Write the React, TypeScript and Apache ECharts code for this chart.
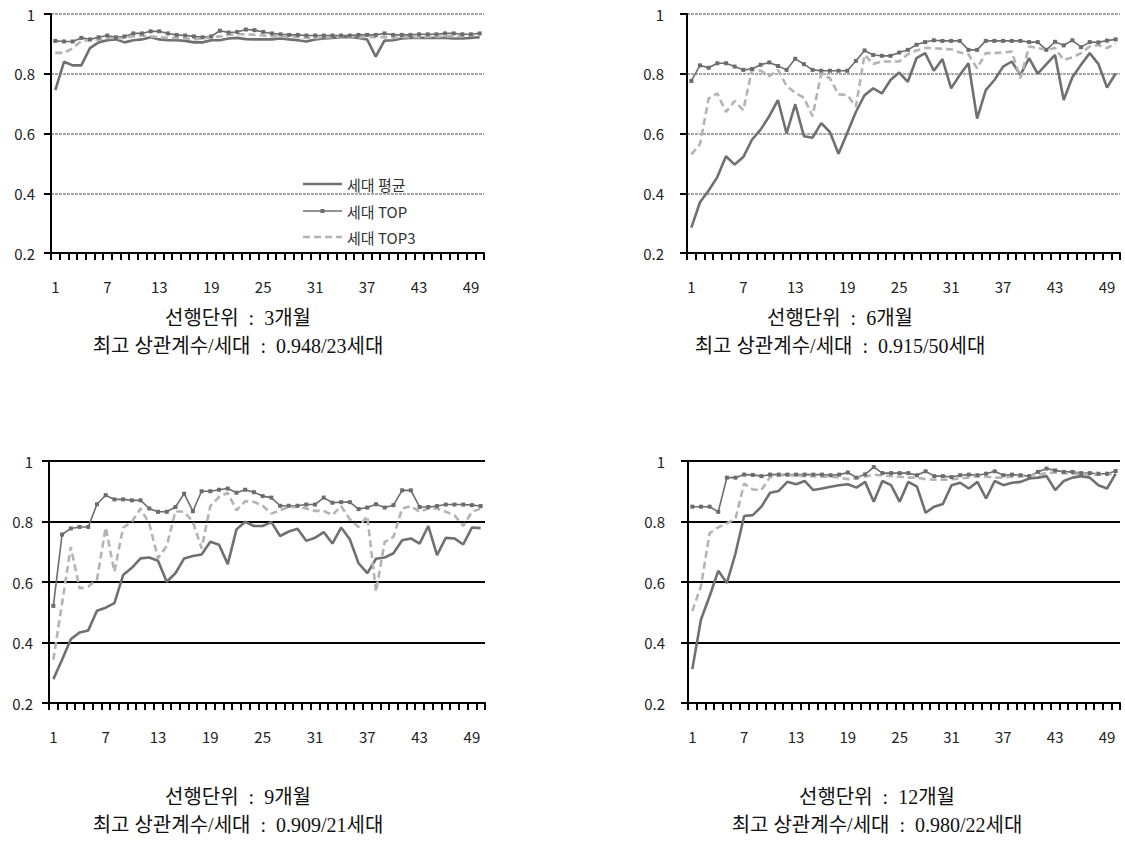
import React, { useEffect, useRef } from "react";
import * as echarts from "echarts";

const categories: string[] = Array.from({ length: 50 }, (_, i) => String(i + 1));
const seriesNames = ["세대 평균", "세대 TOP", "세대 TOP3"];

// Panel 1: 3개월
const p1Avg = [0.745,0.84,0.828,0.828,0.886,0.905,0.912,0.915,0.905,0.912,0.915,0.922,0.915,0.912,0.912,0.91,0.905,0.905,0.912,0.912,0.918,0.92,0.916,0.915,0.915,0.915,0.918,0.915,0.912,0.908,0.915,0.918,0.92,0.922,0.922,0.92,0.915,0.857,0.911,0.912,0.918,0.92,0.92,0.92,0.92,0.92,0.918,0.918,0.92,0.922];
const p1Top = [0.91,0.908,0.908,0.92,0.915,0.922,0.928,0.922,0.925,0.935,0.935,0.942,0.942,0.935,0.93,0.928,0.925,0.922,0.925,0.944,0.938,0.94,0.948,0.946,0.94,0.935,0.932,0.93,0.93,0.928,0.928,0.928,0.928,0.928,0.928,0.93,0.93,0.93,0.935,0.93,0.93,0.93,0.932,0.932,0.932,0.935,0.935,0.932,0.932,0.935];
const p1Top3 = [0.87,0.87,0.885,0.91,0.912,0.915,0.92,0.918,0.92,0.925,0.928,0.925,0.922,0.92,0.92,0.918,0.915,0.918,0.922,0.925,0.93,0.932,0.932,0.93,0.928,0.925,0.925,0.922,0.922,0.92,0.92,0.922,0.922,0.922,0.922,0.922,0.922,0.922,0.922,0.92,0.922,0.922,0.922,0.924,0.924,0.925,0.926,0.926,0.928,0.93];

// Panel 2: 6개월
const p2Avg = [0.285,0.37,0.409,0.454,0.524,0.496,0.521,0.579,0.613,0.658,0.712,0.6,0.698,0.591,0.586,0.635,0.605,0.532,0.602,0.672,0.728,0.751,0.734,0.779,0.804,0.773,0.852,0.869,0.81,0.849,0.751,0.796,0.835,0.65,0.745,0.779,0.824,0.841,0.796,0.852,0.8,0.832,0.863,0.712,0.788,0.83,0.869,0.833,0.754,0.801];
const p2Top = [0.776,0.828,0.82,0.835,0.835,0.824,0.813,0.816,0.83,0.838,0.826,0.813,0.85,0.832,0.813,0.81,0.81,0.81,0.81,0.843,0.878,0.863,0.86,0.86,0.871,0.88,0.897,0.906,0.912,0.91,0.91,0.91,0.88,0.88,0.91,0.91,0.91,0.91,0.91,0.906,0.906,0.88,0.907,0.895,0.912,0.889,0.906,0.905,0.911,0.915];
const p2Top3 = [0.53,0.564,0.717,0.734,0.672,0.709,0.678,0.813,0.81,0.792,0.813,0.759,0.736,0.72,0.658,0.8,0.785,0.731,0.729,0.69,0.863,0.833,0.841,0.841,0.841,0.865,0.878,0.886,0.886,0.883,0.882,0.871,0.865,0.818,0.869,0.869,0.871,0.874,0.785,0.891,0.886,0.88,0.886,0.846,0.855,0.869,0.891,0.896,0.886,0.902];

// Panel 3: 9개월
const p3Avg = [0.279,0.343,0.411,0.433,0.44,0.505,0.515,0.53,0.623,0.647,0.678,0.681,0.67,0.601,0.629,0.678,0.686,0.691,0.733,0.723,0.659,0.774,0.799,0.785,0.785,0.798,0.752,0.767,0.776,0.736,0.746,0.765,0.727,0.78,0.741,0.662,0.629,0.677,0.681,0.695,0.738,0.744,0.727,0.785,0.689,0.746,0.744,0.724,0.78,0.778];
const p3Top = [0.521,0.757,0.777,0.782,0.782,0.857,0.887,0.873,0.873,0.87,0.87,0.843,0.832,0.832,0.848,0.892,0.834,0.9,0.9,0.905,0.909,0.895,0.905,0.897,0.884,0.879,0.852,0.852,0.852,0.856,0.856,0.879,0.862,0.864,0.864,0.841,0.846,0.857,0.846,0.854,0.903,0.903,0.848,0.848,0.851,0.856,0.856,0.856,0.854,0.851];
const p3Top3 = [0.343,0.53,0.716,0.579,0.585,0.607,0.78,0.634,0.78,0.799,0.843,0.793,0.678,0.719,0.834,0.832,0.799,0.711,0.851,0.881,0.895,0.837,0.867,0.865,0.852,0.826,0.837,0.848,0.848,0.843,0.835,0.835,0.821,0.851,0.807,0.782,0.818,0.568,0.733,0.749,0.843,0.851,0.832,0.843,0.843,0.832,0.821,0.785,0.832,0.843];

// Panel 4: 12개월
const p4Avg = [0.312,0.476,0.553,0.637,0.597,0.695,0.818,0.821,0.849,0.895,0.901,0.931,0.923,0.934,0.904,0.909,0.915,0.92,0.923,0.912,0.931,0.865,0.934,0.92,0.865,0.931,0.915,0.829,0.849,0.858,0.92,0.928,0.909,0.931,0.876,0.934,0.92,0.928,0.931,0.942,0.945,0.95,0.904,0.934,0.945,0.95,0.945,0.92,0.909,0.958];
const p4Top = [0.849,0.849,0.849,0.832,0.945,0.945,0.955,0.954,0.95,0.955,0.955,0.955,0.955,0.955,0.955,0.955,0.953,0.955,0.962,0.945,0.956,0.98,0.96,0.96,0.96,0.96,0.953,0.966,0.95,0.95,0.947,0.953,0.955,0.953,0.958,0.966,0.953,0.955,0.953,0.95,0.964,0.975,0.969,0.964,0.964,0.96,0.96,0.958,0.958,0.967];
const p4Top3 = [0.504,0.586,0.761,0.781,0.794,0.81,0.925,0.906,0.904,0.947,0.953,0.953,0.952,0.95,0.95,0.948,0.948,0.945,0.94,0.945,0.948,0.955,0.952,0.95,0.948,0.945,0.945,0.94,0.938,0.938,0.94,0.942,0.945,0.95,0.948,0.945,0.945,0.948,0.95,0.952,0.955,0.96,0.962,0.96,0.958,0.958,0.955,0.955,0.955,0.96];

const yTicks = { min: 0.2, max: 1, interval: 0.2 };

const captions = [
  ["선행단위  :  3개월", "최고 상관계수/세대  :  0.948/23세대"],
  ["선행단위  :  6개월", "최고 상관계수/세대  :  0.915/50세대"],
  ["선행단위  :  9개월", "최고 상관계수/세대  :  0.909/21세대"],
  ["선행단위  :  12개월", "최고 상관계수/세대  :  0.980/22세대"],
];

const panelData = [
  [p1Avg, p1Top, p1Top3],
  [p2Avg, p2Top, p2Top3],
  [p3Avg, p3Top, p3Top3],
  [p4Avg, p4Top, p4Top3],
];

const SANS = "'Noto Sans CJK KR', 'Noto Sans', sans-serif";
const SERIF = "'Liberation Serif', 'DejaVu Serif', 'Noto Sans CJK KR', serif";

const AVG_STYLE = { color: "#707070", width: 2.6 };
const TOP_STYLE = { color: "#6c6c6c", width: 1.6 };
const TOP3_STYLE = { color: "#b4b4b4", width: 2.6, dash: [7, 4] };

export default function App() {
  const ref = useRef<HTMLDivElement>(null);
  useEffect(() => {
    if (!ref.current) return;
    const chart = echarts.init(ref.current, undefined, { renderer: "svg" });

    const grids = [
      { left: 51, top: 14, width: 433, height: 239 },
      { left: 687, top: 14, width: 433, height: 239 },
      { left: 49, top: 461, width: 436, height: 242 },
      { left: 688, top: 461, width: 432, height: 242 },
    ];

    const xAxes = grids.map((_, i) => ({
      type: "category",
      gridIndex: i,
      data: categories,
      boundaryGap: true,
      axisLine: { show: true, onZero: false, lineStyle: { color: "#000", width: 2 } },
      axisTick: { show: true, interval: 0, length: 7, lineStyle: { color: "#000", width: 2 } },
      axisLabel: { interval: 5, margin: 26, fontSize: 15, color: "#222", fontFamily: SANS },
      splitLine: { show: false },
    }));

    const yAxes = grids.map((_, i) => ({
      type: "value",
      gridIndex: i,
      min: yTicks.min,
      max: yTicks.max,
      interval: yTicks.interval,
      axisLine: { show: true, lineStyle: { color: "#000", width: 2 } },
      axisTick: { show: true, length: 7, lineStyle: { color: "#000", width: 2 } },
      axisLabel: { margin: i % 2 === 0 ? 16 : 23, fontSize: 15, color: "#222", fontFamily: SANS },
      splitLine: {
        show: true,
        lineStyle:
          i < 2
            ? { color: "#8a8a8a", width: 1.5, type: [3, 1] }
            : { color: "#000", width: 1.8, type: "solid" },
      },
    }));

    const series: any[] = [];
    panelData.forEach((arrs, i) => {
      series.push({
        name: seriesNames[0],
        type: "line",
        xAxisIndex: i,
        yAxisIndex: i,
        data: arrs[0],
        symbol: "none",
        lineStyle: { color: AVG_STYLE.color, width: AVG_STYLE.width },
        itemStyle: { color: AVG_STYLE.color },
      });
      series.push({
        name: seriesNames[1],
        type: "line",
        xAxisIndex: i,
        yAxisIndex: i,
        data: arrs[1],
        symbol: "rect",
        symbolSize: 4,
        lineStyle: { color: TOP_STYLE.color, width: TOP_STYLE.width },
        itemStyle: { color: TOP_STYLE.color },
      });
      series.push({
        name: seriesNames[2],
        type: "line",
        xAxisIndex: i,
        yAxisIndex: i,
        data: arrs[2],
        symbol: "none",
        lineStyle: { color: TOP3_STYLE.color, width: TOP3_STYLE.width, type: TOP3_STYLE.dash },
        itemStyle: { color: TOP3_STYLE.color },
      });
    });

    const captionPos = [
      [238, 318],
      [840, 318],
      [238, 797],
      [877, 797],
    ];
    const graphics: any[] = [];
    captions.forEach((lines, i) => {
      lines.forEach((t, j) => {
        graphics.push({
          type: "text",
          x: captionPos[i][0],
          y: captionPos[i][1] + j * 28,
          style: {
            text: t,
            font: `20px ${SERIF}`,
            fill: "#111",
            textAlign: "center",
            textVerticalAlign: "middle",
          },
        });
      });
    });

    const legX = 303;
    const legY = [184, 211, 237];
    const legStyles = [
      { stroke: AVG_STYLE.color, lineWidth: AVG_STYLE.width },
      { stroke: TOP_STYLE.color, lineWidth: TOP_STYLE.width },
      { stroke: TOP3_STYLE.color, lineWidth: TOP3_STYLE.width, lineDash: TOP3_STYLE.dash },
    ];
    seriesNames.forEach((name, k) => {
      graphics.push({
        type: "line",
        shape: { x1: legX, y1: legY[k], x2: legX + 39, y2: legY[k] },
        style: legStyles[k],
        z: 10,
      });
      if (k === 1) {
        graphics.push({
          type: "rect",
          shape: { x: legX + 17.5, y: legY[k] - 2, width: 4, height: 4 },
          style: { fill: TOP_STYLE.color },
          z: 10,
        });
      }
      graphics.push({
        type: "text",
        x: legX + 44,
        y: legY[k],
        style: { text: name, font: `15px ${SANS}`, fill: "#333", textVerticalAlign: "middle" },
        z: 10,
      });
    });

    chart.setOption({
      animation: false,
      backgroundColor: "#fff",
      grid: grids,
      xAxis: xAxes,
      yAxis: yAxes,
      series,
      graphic: graphics,
    });
    return () => chart.dispose();
  }, []);
  return (
    <div
      ref={ref}
      style={{ position: "fixed", left: 0, top: 0, width: 1125, height: 842, background: "#fff" }}
    />
  );
}
